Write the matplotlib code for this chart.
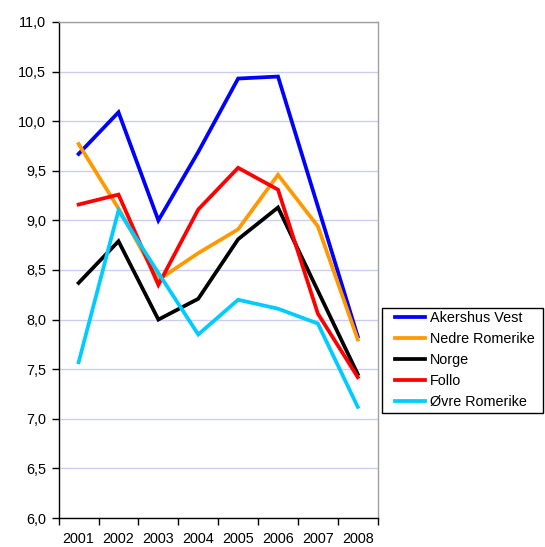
import numpy as np
import matplotlib
matplotlib.use('Agg')
import matplotlib.pyplot as plt
from matplotlib.patches import Rectangle
from matplotlib.ticker import FixedLocator, FuncFormatter

plt.rcParams['font.family'] = ['Liberation Sans', 'DejaVu Sans']

# data
years = ['2001', '2002', '2003', '2004', '2005', '2006', '2007', '2008']
akershus_vest = [9.67, 10.09, 9.00, 9.69, 10.43, 10.45, 9.14, 7.83]
nedre_romerike = [9.77, 9.12, 8.40, 8.67, 8.91, 9.46, 8.94, 7.80]
norge = [8.37, 8.79, 8.00, 8.21, 8.81, 9.13, 8.29, 7.45]
follo = [9.16, 9.26, 8.35, 9.11, 9.53, 9.31, 8.06, 7.42]
ovre_romerike = [7.57, 9.10, 8.47, 7.85, 8.20, 8.11, 7.96, 7.12]

series = [
    ('Akershus Vest', akershus_vest, '#0000ff'),
    ('Nedre Romerike', nedre_romerike, '#ff9900'),
    ('Norge', norge, '#000000'),
    ('Follo', follo, '#ff0000'),
    ('Øvre Romerike', ovre_romerike, '#00ccff'),
]

W, H = 545, 547
fig = plt.figure(figsize=(W / 100, H / 100), dpi=100)
ax = fig.add_axes([0.1077, 0.053, 0.5853, 0.9068])

x = np.arange(len(years)) + 0.5
for name, vals, col in series:
    ax.plot(x, vals, color=col, lw=2.7, label=name, solid_joinstyle='miter')

ax.set_xlim(0, len(years))
ax.set_ylim(6.0, 11.0)

# y axis: comma decimal labels
ax.set_yticks(np.arange(6.0, 11.01, 0.5))
ax.yaxis.set_major_formatter(FuncFormatter(lambda v, p: f'{v:.1f}'.replace('.', ',')))
ax.grid(axis='y', color='#ccccf5', lw=1)
ax.set_axisbelow(True)

# x axis: ticks between categories, labels at centres
ax.xaxis.set_major_locator(FixedLocator(np.arange(0, len(years) + 1)))
ax.xaxis.set_minor_locator(FixedLocator(x))
ax.set_xticklabels([], minor=False)
ax.set_xticklabels(years, minor=True)
ax.tick_params(axis='x', which='major', length=5, width=1, direction='out')
ax.tick_params(axis='x', which='minor', length=0, pad=10, labelsize=10.4)
ax.tick_params(axis='y', length=5, width=1, direction='out', pad=4, labelsize=10.4)

for side in ('left', 'bottom'):
    ax.spines[side].set_color('black')
    ax.spines[side].set_linewidth(1)
for side in ('top', 'right'):
    ax.spines[side].set_color('#a0a0a0')
    ax.spines[side].set_linewidth(1)

# legend box on the right
fig.patches.append(Rectangle((382 / W, 1 - 413 / H), 161 / W, 105 / H,
                             transform=fig.transFigure, fill=False,
                             edgecolor='black', lw=1))
fig.legend(loc='upper left', bbox_to_anchor=(395 / W, 1 - 311.5 / H),
           frameon=False, fontsize=10.4, handlelength=2.1,
           handletextpad=0.3, labelspacing=0.48, borderpad=0, borderaxespad=0)

fig.savefig('out.png', dpi=100)
